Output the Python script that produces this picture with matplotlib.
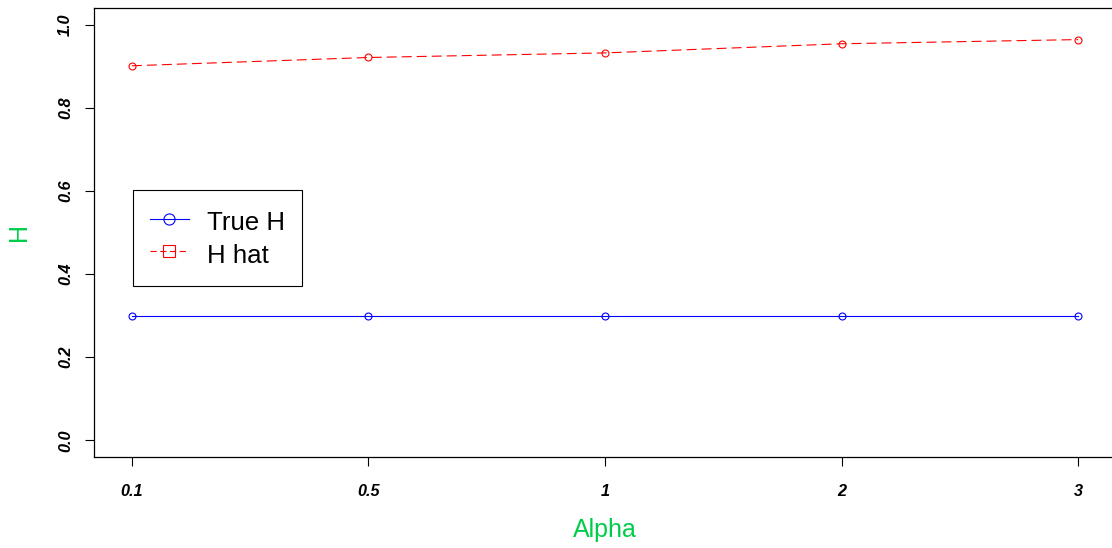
#!/usr/bin/env python3
"""
Plot true vs estimated H across alpha values.
"""

import matplotlib
matplotlib.use("Agg")
import matplotlib.pyplot as plt
from matplotlib.lines import Line2D

alpha_labels = ["0.1", "0.5", "1", "2", "3"]
true_h = [0.3, 0.3, 0.3, 0.3, 0.3]
h_hat = [0.901, 0.921, 0.932, 0.954, 0.964]

plt.rcParams["font.family"] = ["Liberation Sans", "DejaVu Sans"]
plt.rcParams["lines.scale_dashes"] = False

W, H = 1112, 548
fig = plt.figure(figsize=(W / 100, H / 100), dpi=100)

# plot region in pixels (right edge runs past the figure)
left, right, top, bottom = 94, 1116, 8, 457
ax = fig.add_axes([left / W, 1 - bottom / H, (right - left) / W, (bottom - top) / H])

x = list(range(1, len(alpha_labels) + 1))
dash = (0, (7.2, 3.6))

ax.plot(x, true_h, color="#0000FF", lw=0.8, marker="o", markersize=5,
        markerfacecolor="none", markeredgewidth=0.8)
ax.plot(x, h_hat, color="#FF0000", lw=0.8, linestyle=dash, marker="o",
        markersize=5, markerfacecolor="none", markeredgewidth=0.8)

ax.set_xlim(0.84, 5.16)
ax.set_ylim(-0.04, 1.04)

ax.set_xticks(x)
ax.set_xticklabels(alpha_labels)
ax.set_yticks([0.0, 0.2, 0.4, 0.6, 0.8, 1.0])
ax.set_yticklabels(["0.0", "0.2", "0.4", "0.6", "0.8", "1.0"])

ax.tick_params(axis="x", length=6.5, width=0.8, pad=13, labelsize=11.7)
ax.tick_params(axis="y", length=6.5, width=0.8, pad=8.5, labelsize=11.7,
               labelrotation=90)
for lab in ax.get_xticklabels() + ax.get_yticklabels():
    lab.set_fontweight("bold")
    lab.set_fontstyle("italic")
for lab in ax.get_yticklabels():
    lab.set_verticalalignment("center")

for sp in ax.spines.values():
    sp.set_linewidth(0.9)
    sp.set_color("black")

green = "#00CC4A"
fig.text(605 / W, 1 - 530 / H, "Alpha", color=green, fontsize=18,
         ha="center", va="center")
fig.text(19 / W, 1 - 232 / H, "H", color=green, fontsize=18,
         rotation=90, ha="center", va="center")

# legend sample for H hat uses a shorter dash so both sides of the box show
handles = [
    Line2D([], [], color="#0000FF", lw=0.8, marker="o", markersize=8,
           markerfacecolor="none", markeredgewidth=0.8),
    Line2D([], [], color="#FF0000", lw=0.8, linestyle=(0, (4.5, 2.5)),
           marker="s", markersize=8, markerfacecolor="none",
           markeredgewidth=0.8),
]
leg = ax.legend(handles, ["True H", "H hat"], loc="upper left",
                bbox_to_anchor=(133 / W, 1 - 190 / H),
                bbox_transform=fig.transFigure, borderaxespad=0,
                fontsize=18.6, handlelength=1.5, handleheight=1.35,
                handletextpad=0.72, borderpad=0.66, labelspacing=0.15,
                fancybox=False, framealpha=1, edgecolor="black")
leg.get_frame().set_linewidth(0.8)

plt.savefig("out.png", dpi=100)
